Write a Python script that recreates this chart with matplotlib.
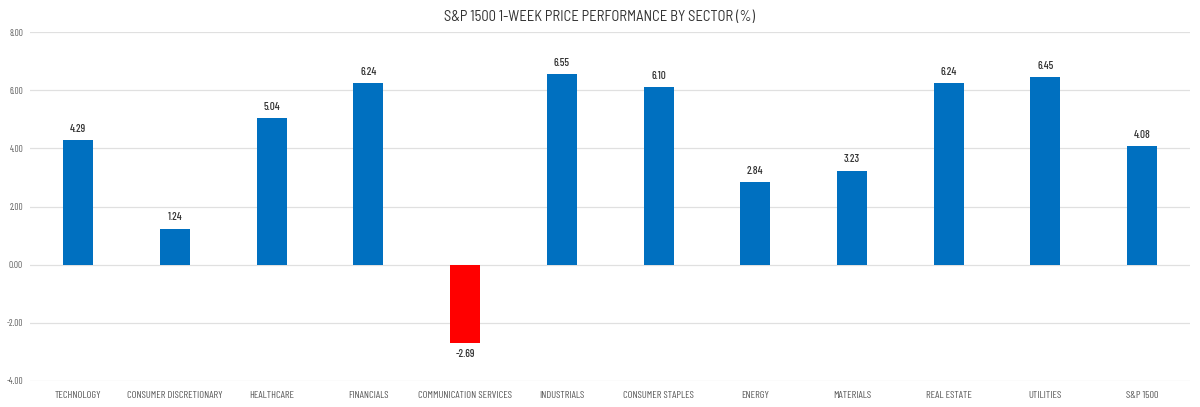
import matplotlib.pyplot as plt
import numpy as np

# sector data
sectors = ['TECHNOLOGY', 'CONSUMER DISCRETIONARY', 'HEALTHCARE', 'FINANCIALS',
           'COMMUNICATION SERVICES', 'INDUSTRIALS', 'CONSUMER STAPLES', 'ENERGY',
           'MATERIALS', 'REAL ESTATE', 'UTILITIES', 'S&P 1500']
performance = [4.29, 1.24, 5.04, 6.24, -2.69, 6.55, 6.10, 2.84, 3.23, 6.24, 6.45, 4.08]
y_ticks = [-4, -2, 0, 2, 4, 6, 8]

# DIN-like condensed look
plt.rcParams['font.family'] = ['Barlow Condensed', 'DejaVu Sans']

fig = plt.figure(figsize=(12, 4.07), dpi=100)
ax = fig.add_axes([0.025, 0.064, 0.967, 0.857])

x = np.arange(len(sectors))
colors = ['#FF0000' if v < 0 else '#0070C0' for v in performance]
ax.bar(x, performance, width=0.31, color=colors, zorder=3)

# value labels above/below each bar
for xi, v in zip(x, performance):
    if v >= 0:
        ax.text(xi, v + 0.22, f'{v:.2f}', ha='center', va='bottom', fontsize=8,
                fontweight='medium', color='#333333')
    else:
        ax.text(xi, v - 0.22, f'{v:.2f}', ha='center', va='top', fontsize=8,
                fontweight='medium', color='#333333')

ax.set_xlim(-0.5, len(sectors) - 0.5)
ax.set_ylim(-4, 8)
ax.set_yticks(y_ticks)
ax.set_yticklabels([f'{t:.2f}' for t in y_ticks], fontsize=6.5, color='#595959')
ax.set_xticks(x)
ax.set_xticklabels(sectors, fontsize=7.5, color='#595959')
ax.tick_params(axis='x', length=0, pad=7)
ax.tick_params(axis='y', length=0, pad=5)
ax.grid(axis='y', color='#e0e0e0', linewidth=0.9, zorder=0)
for s in ax.spines.values():
    s.set_visible(False)

fig.suptitle('S&P 1500 1-WEEK PRICE PERFORMANCE BY SECTOR (%)', y=0.975,
             fontsize=10.5, color='#333333', family=['Barlow Semi Condensed', 'DejaVu Sans'])

plt.savefig('out.png', dpi=100)
